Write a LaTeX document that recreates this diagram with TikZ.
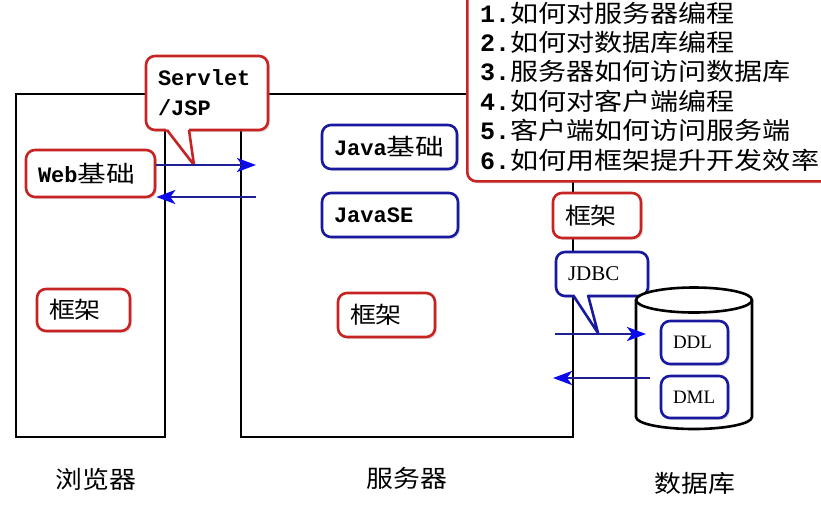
\documentclass[tikz,border=0pt]{standalone}
\usepackage{fontspec}
\setmainfont{Liberation Serif}
\newfontfamily\cjk{Noto Sans CJK SC}
\newfontfamily\mono{Liberation Mono}
\usetikzlibrary{arrows.meta,shadows}
\definecolor{boxred}{RGB}{200,35,35}
\definecolor{boxblue}{RGB}{25,25,160}
\definecolor{arrowline}{RGB}{30,30,150}
\definecolor{arrowhead}{RGB}{10,10,235}
\newcommand{\cjkwide}[2]{\scalebox{#1}[1]{#2}}
\newcommand{\mn}[1]{{\mono\bfseries\fontsize{22}{26}\selectfont #1}}
\newcommand{\num}[1]{{\mono\bfseries\fontsize{25}{30}\selectfont #1}}
\newcommand{\lst}[1]{\cjkwide{1.17}{\cjk\fontsize{24}{30}\selectfont #1}}
\begin{document}
\begin{tikzpicture}[x=1pt,y=-1pt,
 frame/.style={draw=black,line width=2.6pt,inner sep=0pt,outer sep=0pt,anchor=north west},
 rbox/.style={draw=boxred,line width=2.6pt,fill=white,rounded corners=9pt,
   drop shadow={opacity=0.25,shadow xshift=2pt,shadow yshift=-2pt},
   inner xsep=12pt,inner ysep=0pt,align=left},
 bbox/.style={rbox,draw=boxblue},
 flow/.style={draw=arrowline,line width=2.8pt,-{Stealth[length=19pt,width=14pt,inset=5pt,color=arrowhead]}},
 mo/.style={font=\mono\bfseries\fontsize{22}{30}\selectfont},
 se/.style={font=\fontsize{21}{24}\selectfont},
 captext/.style={inner sep=0pt},
 item/.style={anchor=west,inner sep=0pt}
]
\clip (0,0) rectangle (821,504);
\fill[white] (0,0) rectangle (821,504);

% frames
\node[frame,minimum width=149pt,minimum height=343pt] (browser) at (16,94) {};
\node[frame,minimum width=332pt,minimum height=343pt] (server) at (241,94) {};

% Servlet callout
\node[rbox,mo,minimum width=122pt,minimum height=74pt,text width=98pt] (servlet) at (207,93) {Servlet\\/JSP};
\fill[white] (164,126) -- (194,165) -- (188.4,126) -- cycle;
\draw[boxred,line width=2.6pt,line join=round] (167,130) -- (194,165) -- (189,130);

% boxes
\node[rbox,minimum width=129pt,minimum height=47pt,text width=105pt] (web) at (90.5,173.5) {\mn{Web}\cjkwide{1.25}{\cjk\fontsize{23}{26}\selectfont 基础}};
\node[bbox,minimum width=135pt,minimum height=44pt,text width=111pt] (jbase) at (389.5,147) {\mn{Java}\cjkwide{1.25}{\cjk\fontsize{23}{26}\selectfont 基础}};
\node[bbox,mo,minimum width=136pt,minimum height=44pt,text width=112pt] (jse) at (390,215) {JavaSE};
\node[rbox,minimum width=93pt,minimum height=42pt,text width=69pt] (fw1) at (83.5,310) {\cjkwide{1.13}{\cjk\fontsize{23}{26}\selectfont 框架}};
\node[rbox,minimum width=97pt,minimum height=44pt,text width=73pt] (fw2) at (386.5,315) {\cjkwide{1.13}{\cjk\fontsize{23}{26}\selectfont 框架}};
\node[rbox,minimum width=88pt,minimum height=45pt,text width=64pt] (fw3) at (597,215.5) {\cjkwide{1.13}{\cjk\fontsize{23}{26}\selectfont 框架}};

% JDBC callout
\node[bbox,se,minimum width=92pt,minimum height=44pt,text width=68pt] (jdbc) at (602,274) {JDBC};
\fill[white] (571,292) -- (598,333) -- (587.5,292) -- cycle;
\draw[boxblue,line width=2.6pt,line join=round] (573,295) -- (598,333) -- (588,295);

% database cylinder
\filldraw[fill=white,draw=black,line width=2.6pt] (636,300) -- (636,417)
  arc[start angle=180,end angle=360,x radius=58pt,y radius=12pt] -- (752,300)
  arc[start angle=0,end angle=180,x radius=58pt,y radius=12.5pt] -- cycle;
\draw[black,line width=2.6pt] (636,300) arc[start angle=180,end angle=360,x radius=58pt,y radius=12.5pt];
\node[bbox,se,font=\fontsize{19}{22}\selectfont,minimum width=67pt,minimum height=43pt,text width=43pt] (ddl) at (694.5,342.5) {DDL};
\node[bbox,se,font=\fontsize{19}{22}\selectfont,minimum width=67pt,minimum height=42pt,text width=43pt] (dml) at (694.5,397) {DML};

% arrows
\coordinate (a1) at (256,165);
\coordinate (a2) at (256,197);
\draw[flow] (web.east |- a1) -- (a1);
\draw[flow] (a2) -- (web.east |- a2);
\coordinate (d1) at (646,334);
\coordinate (d2) at (650,378);
\coordinate (d2e) at (553,378);
\draw[flow] (jdbc.west |- d1) -- (d1);
\draw[flow] (d2) -- (d2e);

% list box
\node[rbox,anchor=north west,minimum width=400pt,minimum height=200pt] (list) at (466,-20) {};
\node[item] (l1) at (480,13) {\num{1.}\lst{如何对服务器编程}};
\node[item] (l2) at (480,42) {\num{2.}\lst{如何对数据库编程}};
\node[item] (l3) at (480,71.5) {\num{3.}\lst{服务器如何访问数据库}};
\node[item] (l4) at (480,101) {\num{4.}\lst{如何对客户端编程}};
\node[item] (l5) at (480,130.5) {\num{5.}\lst{客户端如何访问服务端}};
\node[item] (l6) at (480,160) {\num{6.}\lst{如何用框架提升开发效率}};

% captions
\node[captext] (c1) at (96,479) {\cjkwide{1.12}{\cjk\fontsize{24}{28}\selectfont 浏览器}};
\node[captext] (c2) at (407,478) {\cjkwide{1.12}{\cjk\fontsize{24}{28}\selectfont 服务器}};
\node[captext] (c3) at (695,483) {\cjkwide{1.12}{\cjk\fontsize{24}{28}\selectfont 数据库}};
\end{tikzpicture}
\end{document}
